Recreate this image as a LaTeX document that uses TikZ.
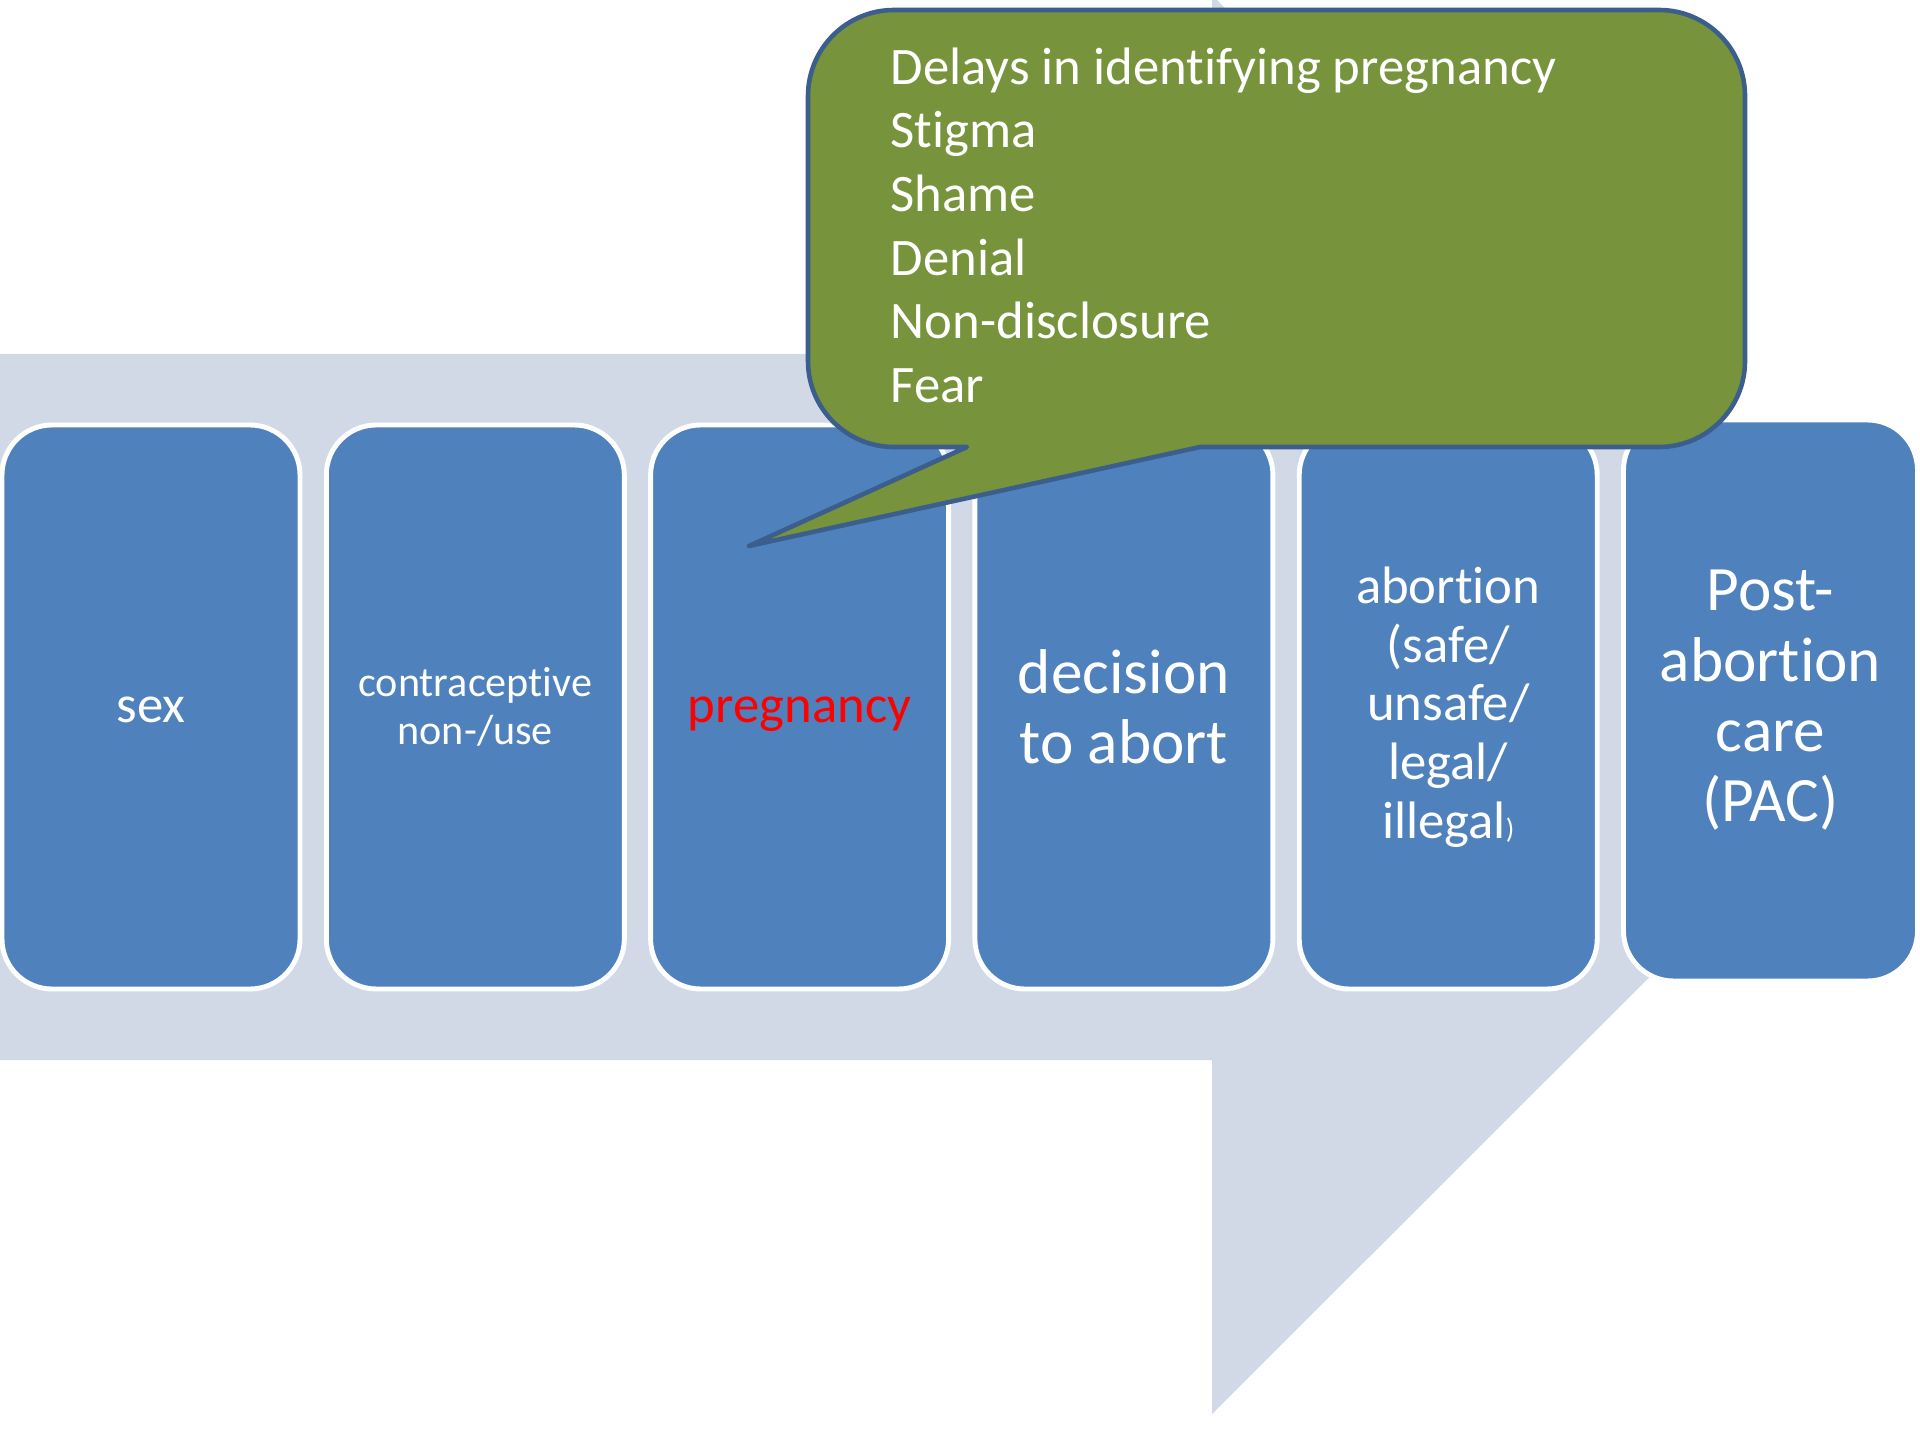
\documentclass[tikz,border=0pt]{standalone}
\usepackage{fontspec}
\setmainfont{Carlito}[Ligatures={NoCommon}]
\usetikzlibrary{positioning}

\definecolor{stageblue}{HTML}{4F81BD}
\definecolor{arrowgray}{HTML}{D1D9E7}
\definecolor{noteolive}{HTML}{77933C}
\definecolor{noteedge}{HTML}{3B5E8C}

\begin{document}
\begin{tikzpicture}[
        node distance=1.5cm and 0.263cm,
        stage/.style={rectangle, draw=white, line width=1.4pt, rounded corners=0.5cm, fill=stageblue, minimum width=2.98cm, minimum height=5.64cm, align=center, text=white, inner sep=2pt, outer sep=0pt},
        bubble/.style={fill=noteolive, draw=noteedge, line width=1.3pt, line join=round},
        big/.style={font=\fontsize{18}{20}\selectfont},
        mid/.style={font=\fontsize{15}{16.7}\selectfont},
        small/.style={font=\fontsize{12}{13.6}\selectfont},
        oneline/.style={text height=11pt, text depth=2pt}
    ]
    \useasboundingbox (0,0) rectangle (19.2,14.4);

    % Background arrow
    \fill[arrowgray] (0,10.86) -- (12.12,10.86) -- (12.12,14.45) -- (19.2,7.33)
        -- (12.12,0.26) -- (12.12,3.80) -- (0,3.80) -- cycle;

    % Nodes
    \node[stage, mid, oneline] (sex) at (1.51,7.33) {sex};
    \node[stage, small, right=of sex] (contra) {contraceptive\\non-/use};
    \node[stage, mid, oneline, text=red, right=of contra] (preg) {pregnancy};
    \node[stage, big, right=of preg] (decide) {decision\\to abort};
    \node[stage, mid, right=of decide] (abort) {abortion\\(safe/\\unsafe/\\legal/\\illegal{\fontsize{8}{8}\selectfont)}};
    \node[stage, big, right=of abort, yshift=0.065cm, minimum width=2.94cm, minimum height=5.61cm] (pac) {Post-\\abortion\\care\\(PAC)};

    % Callout
    \coordinate (tip) at (7.49,8.94);
    \path[bubble] (tip) -- (12.00,9.93) -- (16.59,9.93) arc[start angle=270, end angle=360, radius=0.86]
        -- (17.45,13.44) arc[start angle=0, end angle=90, radius=0.86]
        -- (8.94,14.30) arc[start angle=90, end angle=180, radius=0.86]
        -- (8.08,10.79) arc[start angle=180, end angle=270, radius=0.86]
        -- (9.67,9.93) -- cycle;
    \node[anchor=north west, align=left, text=white, inner sep=0pt, font=\fontsize{15}{18.1}\selectfont] (risks) at (8.90,13.93)
        {Delays in identifying pregnancy\\Stigma\\Shame\\Denial\\Non-disclosure\\Fear};

\end{tikzpicture}
\end{document}
